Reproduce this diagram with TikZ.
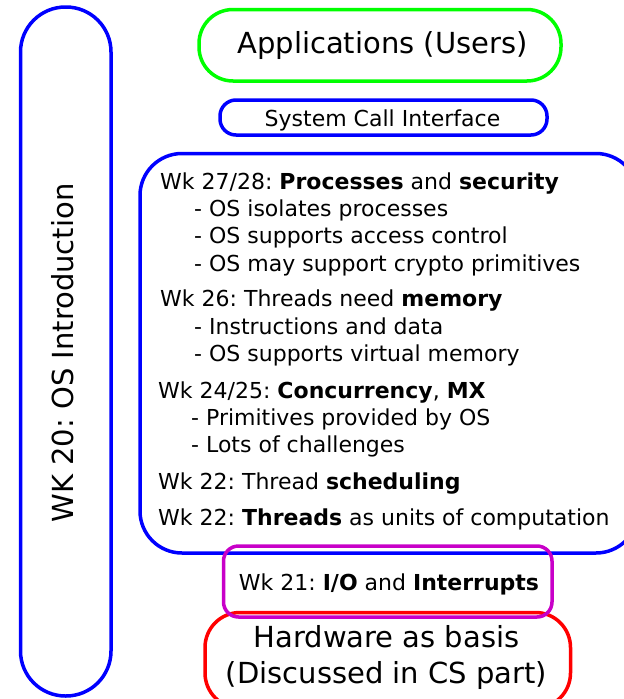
\documentclass[tikz,border=0pt]{standalone}
\usepackage{fontspec}
\setmainfont{DejaVu Sans}
\frenchspacing
\definecolor{mag}{RGB}{200,0,200}

\begin{document}
\begin{tikzpicture}[x=1pt,y=-1pt,
    frame/.style={line width=3.5pt,rounded corners=#1},
    line/.style={anchor=base west,inner sep=0pt,font=\fontsize{22}{26}\selectfont},
    small/.style={anchor=base,inner sep=0pt,font=\fontsize{22}{26}\selectfont},
    big/.style={anchor=base,inner sep=0pt,font=\fontsize{29}{35}\selectfont}]
      \useasboundingbox (0,0) rectangle (624,699);
      \draw[frame=45,blue] (20.5,7) rectangle (111,696);
      \draw[frame=34,green] (199,9.5) rectangle (561,81);
      \draw[frame=16,blue] (220,100) rectangle (547,135);
      \draw[frame=42,blue] (140,153.5) rectangle (638,553);
      \draw[frame=35,red] (205,612.5) rectangle (570.5,708);
      \draw[frame=15,mag] (223.5,546) rectangle (552,617);
      \node[big,anchor=center,rotate=90] (wk20) at (63,353) {WK 20: OS Introduction};
      \node[big] (apps) at (382.5,53.5) {Applications (Users)};
      \node[small] (syscall) at (382.5,126) {System Call Interface};
      \node[line] (wk27) at (160,189) {Wk 27/28: \textbf{Processes} and \textbf{security}};
      \node[line] (iso) at (194,216.7) {- OS isolates processes};
      \node[line] (access) at (194,243.3) {- OS supports access control};
      \node[line] (crypto) at (194,271) {- OS may support crypto primitives};
      \node[line] (wk26) at (160,306.7) {Wk 26: Threads need \textbf{memory}};
      \node[line] (instr) at (194,334.3) {- Instructions and data};
      \node[line] (virt) at (194,361.7) {- OS supports virtual memory};
      \node[line] (wk24) at (158,398.3) {Wk 24/25: \textbf{Concurrency}, \textbf{MX}};
      \node[line] (prim) at (191,425) {- Primitives provided by OS};
      \node[line] (lots) at (191,452.7) {- Lots of challenges};
      \node[line] (sched) at (158,489.3) {Wk 22: Thread \textbf{scheduling}};
      \node[line] (threads) at (158,525) {Wk 22: \textbf{Threads} as units of computation};
      \node[small] (wk21) at (389,590) {Wk 21: \textbf{I/O} and \textbf{Interrupts}};
      \node[big] (hw) at (386.5,647.3) {Hardware as basis};
      \node[big] (cs) at (386.5,683.3) {(Discussed in CS part)};
\end{tikzpicture}
\end{document}
